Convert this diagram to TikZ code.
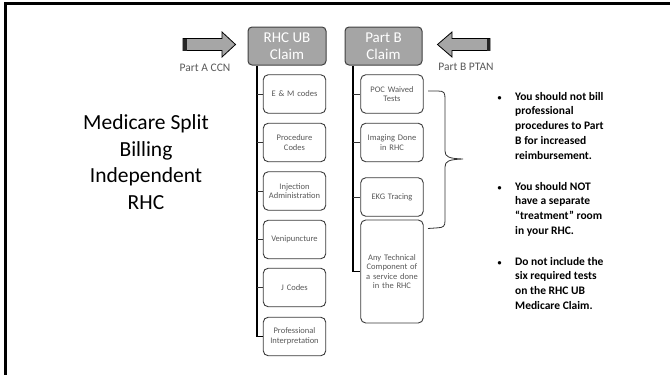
\documentclass[tikz,border=0pt]{standalone}
\usepackage{fontspec}
\setmainfont{Carlito}
\definecolor{hdrfill}{HTML}{A5A5A5}
\definecolor{hdrline}{HTML}{404040}
\definecolor{boxline}{HTML}{3A3A3A}
\definecolor{subtext}{HTML}{595959}
\definecolor{arrfill}{HTML}{A6A6A6}
\definecolor{lbltext}{HTML}{595959}
\begin{document}
\begin{tikzpicture}[x=1pt,y=-1pt,
  hdr/.style={draw=hdrline, fill=hdrfill, rounded corners=4pt, line width=1pt,
    minimum width=78pt, minimum height=38pt, inner sep=0pt, text=white,
    font=\fontsize{15}{16.5}\selectfont, align=center},
  sub/.style={draw=boxline, fill=white, rounded corners=5pt, line width=0.9pt,
    minimum width=62.5pt, minimum height=38.5pt, inner sep=1pt, text=subtext,
    font=\fontsize{8.5}{9.6}\selectfont, align=center, text width=60pt},
  trunk/.style={line width=1.3pt, draw=black},
  tick/.style={line width=0.9pt, draw=black!80},
  blockarrow/.style={draw=black, fill=arrfill, line width=0.8pt},
  lbl/.style={text=lbltext, font=\fontsize{11.5}{13}\selectfont, inner sep=0pt},
  bul/.style={font=\bfseries\fontsize{11.5}{14.7}\selectfont, inner sep=0pt, align=left, anchor=north west},
  bdot/.style={font=\bfseries\fontsize{8}{10}\selectfont, inner sep=0pt, anchor=base},
  ttl/.style={font=\fontsize{21.5}{26.5}\selectfont, align=center, inner sep=0pt}
]
\useasboundingbox (0,0) rectangle (670,375);
% frame
\draw[line width=2.5pt] (5.5,377) -- (5.5,3.3) -- (672,3.3);

% title
\node[ttl] (title) at (146,162) {Medicare Split\\Billing\\Independent\\RHC};

% headers
\node[hdr] (hdrA) at (287,46) {RHC UB\\Claim};
\node[hdr, minimum width=77pt] (hdrB) at (383.5,46) {Part B\\Claim};

% block arrows
\path[blockarrow] (183,38.5) -- (222,38.5) -- (222,32) -- (235.5,44.5) -- (222,57) -- (222,50.5) -- (183,50.5) -- cycle;
\fill[black!85] (183,38.5) rectangle (186.5,50.5);
\path[blockarrow] (490,38.5) -- (452,38.5) -- (452,32) -- (437.5,44.5) -- (452,57) -- (452,50.5) -- (490,50.5) -- cycle;
\fill[black!85] (486.5,38.5) rectangle (490,50.5);
\node[lbl] (lblA) at (205,67.5) {Part A CCN};
\node[lbl] (lblB) at (466,66.5) {Part B PTAN};

% left column
\node[sub] (a1) at (294.5,94) {E \& M codes};
\node[sub] (a2) at (294.5,142.5) {Procedure\\Codes};
\node[sub] (a3) at (294.5,191) {Injection\\Administration};
\node[sub] (a4) at (294.5,239.5) {Venipuncture};
\node[sub] (a5) at (294.5,287.5) {J Codes};
\node[sub] (a6) at (294.5,336.5) {Professional\\Interpretation};

% right column
\node[sub] (b1) at (392,94) {POC Waived\\Tests};
\node[sub] (b2) at (392,142.5) {Imaging Done\\in RHC};
\node[sub] (b3) at (392,197) {EKG Tracing};
\node[sub, minimum height=103pt] (b4) at (392,271.5) {Any Technical\\Component of\\a service done\\in the RHC};

% connectors
\coordinate (tA) at ([xshift=-30pt]hdrA.south);
\coordinate (tB) at ([xshift=-30.5pt]hdrB.south);
\draw[trunk] (tA) |- (a6.west);
\foreach \n in {1,...,5} { \draw[tick] (tA |- a\n.west) -- (a\n.west); }
\draw[trunk] (tB) |- (b4.west);
\foreach \n in {1,...,3} { \draw[tick] (tB |- b\n.west) -- (b\n.west); }

% brace
\draw[line width=0.8pt, draw=black!80]
  (428,91) -- (438,91) .. controls (444.5,91) and (445,93) .. (445,99)
  -- (445,151) .. controls (445,157) and (449,158.5) .. (463,159)
  .. controls (449,159.5) and (445,161) .. (445,167)
  -- (445,221) .. controls (445,226.5) and (443,227.5) .. (438,227.8) -- (428,228.5);

% bullets
\node[bdot] (d1) at (499.5,100) {•};
\node[bul] (t1) at (515,92) {You should not bill\\professional\\procedures to Part\\B for increased\\reimbursement.};
\node[bdot] (d2) at (499.5,190) {•};
\node[bul] (t2) at (515,182) {You should NOT\\have a separate\\“treatment” room\\in your RHC.};
\node[bdot] (d3) at (499.5,265) {•};
\node[bul] (t3) at (515,257) {Do not include the\\six required tests\\on the RHC UB\\Medicare Claim.};
\end{tikzpicture}
\end{document}
